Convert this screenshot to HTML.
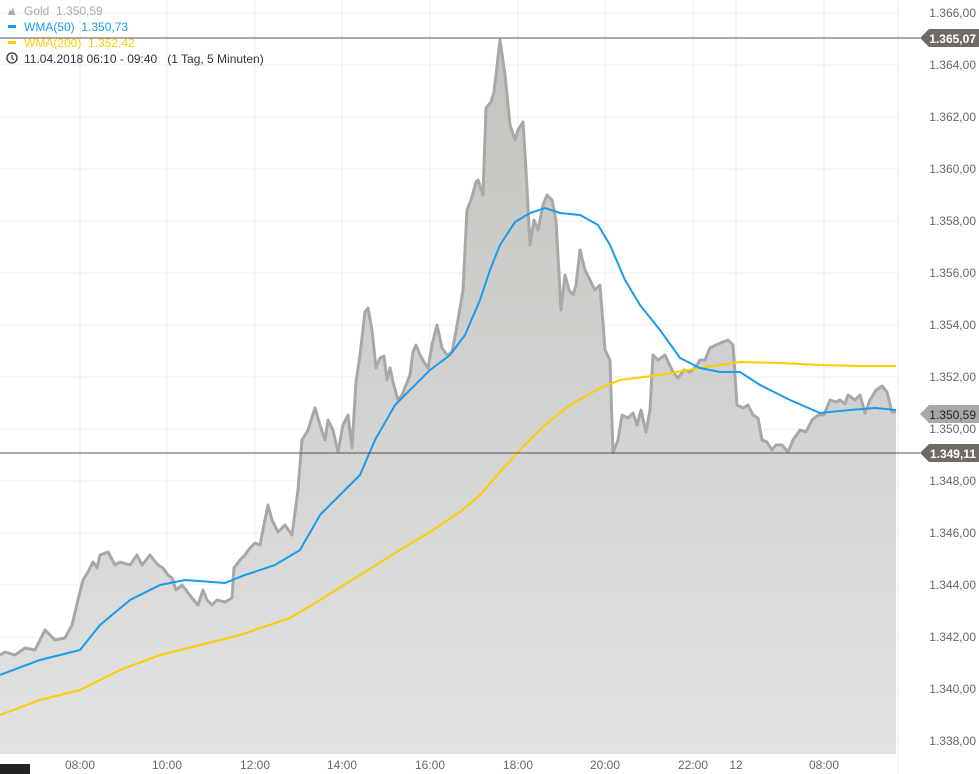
<!DOCTYPE html>
<html><head><meta charset="utf-8"><style>
body{margin:0;background:#fff;}
svg{display:block;font-family:"Liberation Sans",sans-serif;}
text{white-space:pre;}
</style></head><body>
<svg width="979" height="774" viewBox="0 0 979 774">
<defs><linearGradient id="g" x1="0" y1="0" x2="0" y2="1">
<stop offset="0" stop-color="#c2c2be"/><stop offset="1" stop-color="#e2e2e2"/></linearGradient></defs>
<g stroke="#ececec" stroke-width="1">
<line x1="0" x2="898" y1="13" y2="13"/><line x1="0" x2="898" y1="65" y2="65"/><line x1="0" x2="898" y1="117" y2="117"/><line x1="0" x2="898" y1="169" y2="169"/><line x1="0" x2="898" y1="221" y2="221"/><line x1="0" x2="898" y1="273" y2="273"/><line x1="0" x2="898" y1="325" y2="325"/><line x1="0" x2="898" y1="377" y2="377"/><line x1="0" x2="898" y1="429" y2="429"/><line x1="0" x2="898" y1="481" y2="481"/><line x1="0" x2="898" y1="533" y2="533"/><line x1="0" x2="898" y1="585" y2="585"/><line x1="0" x2="898" y1="637" y2="637"/><line x1="0" x2="898" y1="689" y2="689"/><line x1="0" x2="898" y1="741" y2="741"/>
<line x1="80" x2="80" y1="0" y2="754"/><line x1="167" x2="167" y1="0" y2="754"/><line x1="255" x2="255" y1="0" y2="754"/><line x1="342" x2="342" y1="0" y2="754"/><line x1="430" x2="430" y1="0" y2="754"/><line x1="518" x2="518" y1="0" y2="754"/><line x1="605" x2="605" y1="0" y2="754"/><line x1="693" x2="693" y1="0" y2="754"/><line x1="736" x2="736" y1="0" y2="754"/><line x1="824" x2="824" y1="0" y2="754"/><line x1="898" x2="898" y1="0" y2="774"/>
</g>
<path fill="url(#g)" d="M0,655 L5,652 15,655 25,648 35,650 45,630 55,640 65,638 72,625 78,600 83,580 88,572 93,562 97,568 100,555 108,552 115,565 120,562 130,565 137,555 142,565 150,555 158,565 163,568 168,575 172,578 176,590 182,585 186,590 192,598 198,605 203,590 207,600 212,605 217,600 225,602 232,598 234,568 240,560 245,555 250,548 255,543 260,545 265,520 268,505 272,520 278,532 285,525 292,535 298,490 302,440 308,430 315,408 320,425 325,440 328,420 333,430 338,452 343,425 348,415 352,448 356,382 360,355 365,312 368,308 372,330 376,368 380,358 384,356 387,380 390,368 393,382 398,400 402,395 406,385 410,375 413,352 416,345 420,355 424,362 428,368 432,345 437,325 442,348 447,355 452,352 458,320 463,290 467,210 471,200 476,182 478,180 483,195 486,108 491,102 494,92 500,40 505,75 510,125 515,140 518,130 523,122 526,170 530,245 534,220 538,230 543,205 547,195 552,200 556,220 561,310 565,275 569,290 573,295 576,285 580,250 585,270 590,280 595,290 600,285 605,350 610,360 613,453 618,440 622,415 628,418 633,413 637,425 641,410 646,432 650,410 653,355 658,360 665,355 672,370 678,378 684,370 690,372 695,368 700,360 705,360 710,348 716,345 723,342 728,340 733,345 737,405 743,408 748,405 753,415 758,418 762,440 767,442 772,450 776,445 782,445 788,452 793,440 800,430 806,432 812,420 818,415 824,415 830,400 836,402 840,400 845,404 848,395 855,400 860,395 865,413 870,400 876,390 882,386 887,392 892,412 896,412 L896,754 L0,754 Z"/>
<path fill="none" stroke="#a8a8a8" stroke-width="3" stroke-linejoin="round" d="M0,655 L5,652 15,655 25,648 35,650 45,630 55,640 65,638 72,625 78,600 83,580 88,572 93,562 97,568 100,555 108,552 115,565 120,562 130,565 137,555 142,565 150,555 158,565 163,568 168,575 172,578 176,590 182,585 186,590 192,598 198,605 203,590 207,600 212,605 217,600 225,602 232,598 234,568 240,560 245,555 250,548 255,543 260,545 265,520 268,505 272,520 278,532 285,525 292,535 298,490 302,440 308,430 315,408 320,425 325,440 328,420 333,430 338,452 343,425 348,415 352,448 356,382 360,355 365,312 368,308 372,330 376,368 380,358 384,356 387,380 390,368 393,382 398,400 402,395 406,385 410,375 413,352 416,345 420,355 424,362 428,368 432,345 437,325 442,348 447,355 452,352 458,320 463,290 467,210 471,200 476,182 478,180 483,195 486,108 491,102 494,92 500,40 505,75 510,125 515,140 518,130 523,122 526,170 530,245 534,220 538,230 543,205 547,195 552,200 556,220 561,310 565,275 569,290 573,295 576,285 580,250 585,270 590,280 595,290 600,285 605,350 610,360 613,453 618,440 622,415 628,418 633,413 637,425 641,410 646,432 650,410 653,355 658,360 665,355 672,370 678,378 684,370 690,372 695,368 700,360 705,360 710,348 716,345 723,342 728,340 733,345 737,405 743,408 748,405 753,415 758,418 762,440 767,442 772,450 776,445 782,445 788,452 793,440 800,430 806,432 812,420 818,415 824,415 830,400 836,402 840,400 845,404 848,395 855,400 860,395 865,413 870,400 876,390 882,386 887,392 892,412 896,412"/>
<path fill="none" stroke="#ffcc00" stroke-width="2" d="M0,715 L40,700 80,690 120,670 160,655 200,645 240,635 290,618 320,600 360,575 400,550 430,532 460,512 480,495 500,472 520,450 545,425 570,405 600,388 620,380 660,375 700,368 740,362 780,363 820,365 860,366 896,366"/>
<path fill="none" stroke="#1a9bf0" stroke-width="2" d="M0,675 L40,660 80,650 100,625 130,600 160,585 185,580 225,583 245,575 275,565 300,550 320,515 345,490 360,475 375,440 395,405 410,390 430,370 450,355 465,335 480,300 490,270 500,245 515,222 530,213 545,208 560,213 580,215 598,225 610,245 625,280 640,305 660,330 680,358 700,368 720,372 740,372 760,385 790,400 820,413 850,410 875,408 896,410"/>
<line x1="0" x2="920" y1="38" y2="38" stroke="#555" stroke-width="1"/>
<line x1="0" x2="920" y1="453" y2="453" stroke="#555" stroke-width="1"/>
<g font-size="12" fill="#666" text-anchor="end">
<text x="976" y="17">1.366,00</text><text x="976" y="69">1.364,00</text><text x="976" y="121">1.362,00</text><text x="976" y="173">1.360,00</text><text x="976" y="225">1.358,00</text><text x="976" y="277">1.356,00</text><text x="976" y="329">1.354,00</text><text x="976" y="381">1.352,00</text><text x="976" y="433">1.350,00</text><text x="976" y="485">1.348,00</text><text x="976" y="537">1.346,00</text><text x="976" y="589">1.344,00</text><text x="976" y="641">1.342,00</text><text x="976" y="693">1.340,00</text><text x="976" y="745">1.338,00</text>
</g>
<path d="M920,38 L929,29 L979,29 L979,47 L929,47 Z" fill="#6e6a66"/>
<text x="976" y="43" font-size="12" font-weight="bold" fill="#fff" text-anchor="end">1.365,07</text>
<path d="M920,453 L929,444 L979,444 L979,462 L929,462 Z" fill="#6e6a66"/>
<text x="976" y="458" font-size="12" font-weight="bold" fill="#fff" text-anchor="end">1.349,11</text>
<path d="M920,414 L929,405 L979,405 L979,423 L929,423 Z" fill="#a8a8a8"/>
<text x="976" y="419" font-size="12" fill="#222" text-anchor="end">1.350,59</text>
<g font-size="12" fill="#666" text-anchor="middle">
<text x="80" y="769">08:00</text><text x="167" y="769">10:00</text><text x="255" y="769">12:00</text><text x="342" y="769">14:00</text><text x="430" y="769">16:00</text><text x="518" y="769">18:00</text><text x="605" y="769">20:00</text><text x="693" y="769">22:00</text><text x="736" y="769">12</text><text x="824" y="769">08:00</text>
</g>
<rect x="0" y="764" width="30" height="10" fill="#222"/>
<path d="M8,15 L10,9 L11,12 L13,7 L15,15 Z" fill="#aaa"/>
<text x="24" y="15" font-size="12" fill="#aaa">Gold  1.350,59</text>
<rect x="8" y="25" width="8" height="3" fill="#1a9bf0"/>
<text x="24" y="31" font-size="12" fill="#1a9bf0">WMA(50)  1.350,73</text>
<rect x="8" y="41" width="8" height="3" fill="#ffcc00"/>
<text x="24" y="47" font-size="12" fill="#ffcc00">WMA(200)  1.352,42</text>
<circle cx="12" cy="58" r="5" fill="none" stroke="#333" stroke-width="1.3"/>
<path d="M12,55 L12,58 L14,60" fill="none" stroke="#333" stroke-width="1.2"/>
<text x="24" y="63" font-size="12" fill="#333">11.04.2018 06:10 - 09:40   (1 Tag, 5 Minuten)</text>
</svg>
</body></html>
